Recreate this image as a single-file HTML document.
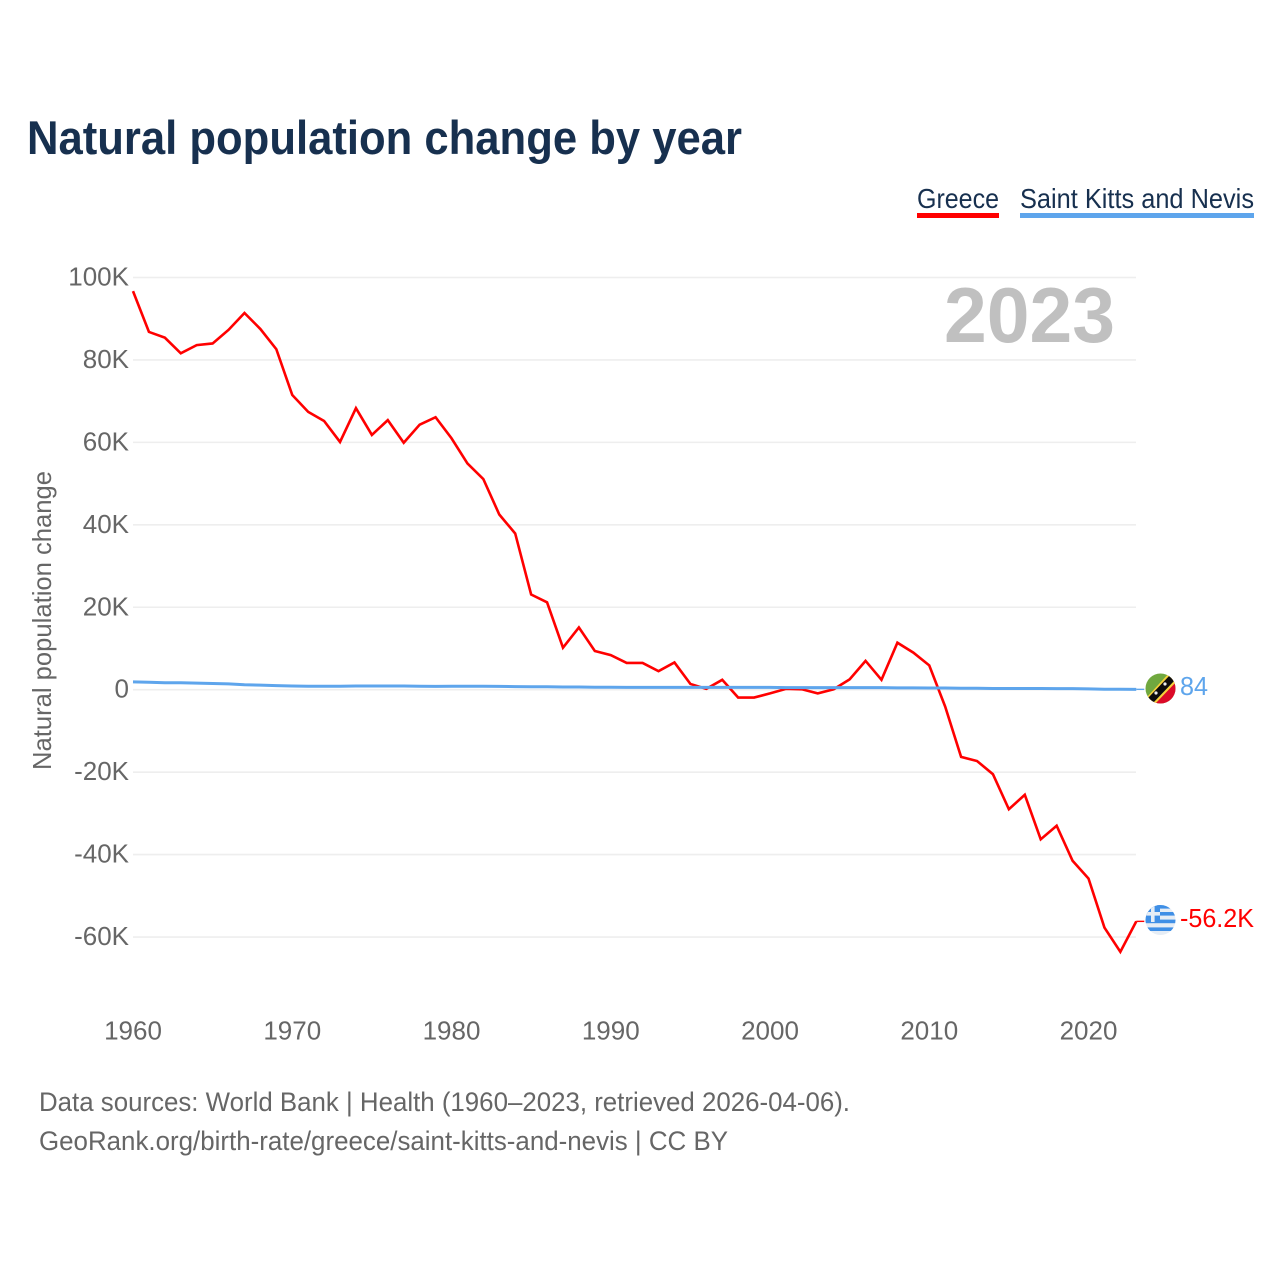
<!DOCTYPE html>
<html lang="en">
<head>
<meta charset="utf-8">
<title>Natural population change by year</title>
<style>
html,body{margin:0;padding:0;background:#fff;}
svg{display:block;font-family:"Liberation Sans",sans-serif;}
</style>
</head>
<body>
<svg id="chart" xmlns="http://www.w3.org/2000/svg" width="1280" height="1280" viewBox="0 0 1280 1280">
  <defs>
    <clipPath id="flag-clip-kn"><circle cx="1160.5" cy="688.5" r="15"/></clipPath>
    <clipPath id="flag-clip-gr"><circle cx="1160.5" cy="920" r="15"/></clipPath>
  </defs>
  <rect width="1280" height="1280" fill="#fff"/>
  <text x="27" y="154" font-size="47" font-weight="700" fill="#17304f" textLength="715" lengthAdjust="spacingAndGlyphs">Natural population change by year</text>

  <g>
    <g>
      <text x="917" y="208" font-size="27.5" fill="#17304f" textLength="82" lengthAdjust="spacingAndGlyphs">Greece</text>
      <rect x="917" y="213" width="82" height="5" fill="#ff0000"/>
    </g>
    <g>
      <text x="1020" y="208" font-size="27.5" fill="#17304f" textLength="234" lengthAdjust="spacingAndGlyphs">Saint Kitts and Nevis</text>
      <rect x="1020" y="213" width="234" height="5" fill="#5ea5ec"/>
    </g>
  </g>

  <g id="grid"></g>
  <g id="y-ticks"></g>
  <g id="x-ticks"></g>

  <text transform="translate(51,620.5) rotate(-90)" text-anchor="middle" font-size="26" fill="#666" textLength="299" lengthAdjust="spacingAndGlyphs">Natural population change</text>
  <text x="944" y="342" font-size="78" font-weight="700" fill="#c0c0c0" textLength="171" lengthAdjust="spacingAndGlyphs">2023</text>

  <g id="series"></g>

  <g clip-path="url(#flag-clip-kn)">
    <rect x="1145" y="673" width="31" height="31" fill="#70a83f"/>
    <polygon points="1176,673 1176,704 1145,704" fill="#dc0a28"/>
    <polygon points="1147,697 1170,672 1178,680 1154,705" fill="#f5d13a"/>
    <polygon points="1148,698 1171,674 1176,679 1153,703" fill="#0c0c0c"/>
    <circle cx="1156" cy="693" r="1.6" fill="#eee"/>
    <circle cx="1165" cy="684" r="1.6" fill="#eee"/>
  </g>
  <g clip-path="url(#flag-clip-gr)">
    <rect x="1145" y="904" width="31" height="32" fill="#e6edf5"/>
    <rect x="1145" y="904" width="31" height="4.6" fill="#3f8fe6"/>
    <rect x="1145" y="912" width="31" height="3.6" fill="#3f8fe6"/>
    <rect x="1145" y="919.6" width="31" height="3.6" fill="#3f8fe6"/>
    <rect x="1145" y="927.4" width="31" height="3.6" fill="#3f8fe6"/>
    <rect x="1145" y="904" width="15" height="18" fill="#3f8fe6"/>
    <rect x="1145" y="912" width="15" height="3.6" fill="#e6edf5"/>
    <rect x="1151" y="904" width="3.6" height="18" fill="#e6edf5"/>
  </g>

  <text x="1180" y="695" font-size="26" fill="#5ea5ec" textLength="28" lengthAdjust="spacingAndGlyphs">84</text>
  <text x="1180" y="927" font-size="26" fill="#ff0000" textLength="74" lengthAdjust="spacingAndGlyphs">-56.2K</text>

  <text x="39" y="1111" font-size="27" fill="#666" textLength="811" lengthAdjust="spacingAndGlyphs">Data sources: World Bank | Health (1960–2023, retrieved 2026-04-06).</text>
  <text x="39" y="1150" font-size="27" fill="#666" textLength="689" lengthAdjust="spacingAndGlyphs">GeoRank.org/birth-rate/greece/saint-kitts-and-nevis | CC BY</text>
</svg>
<script>
const years = [1960,1961,1962,1963,1964,1965,1966,1967,1968,1969,1970,1971,1972,1973,1974,1975,1976,1977,1978,1979,1980,1981,1982,1983,1984,1985,1986,1987,1988,1989,1990,1991,1992,1993,1994,1995,1996,1997,1998,1999,2000,2001,2002,2003,2004,2005,2006,2007,2008,2009,2010,2011,2012,2013,2014,2015,2016,2017,2018,2019,2020,2021,2022,2023];
const greece = [96.7,86.8,85.4,81.6,83.6,84,87.3,91.4,87.5,82.6,71.5,67.4,65.2,60.1,68.3,61.8,65.4,59.9,64.3,66.1,61,54.9,51.1,42.5,37.9,23.1,21.2,10.2,15.1,9.4,8.4,6.5,6.5,4.5,6.6,1.4,0.2,2.4,-1.9,-1.9,-0.9,0.2,0.1,-0.9,0.1,2.5,7,2.4,11.4,9,5.9,-4.1,-16.3,-17.3,-20.5,-29,-25.5,-36.3,-33,-41.5,-45.8,-57.7,-63.6,-56.2];
const saintKitts = [1.9,1.8,1.7,1.7,1.6,1.5,1.4,1.2,1.1,1,0.9,0.85,0.85,0.85,0.9,0.9,0.9,0.9,0.85,0.8,0.85,0.85,0.85,0.8,0.75,0.7,0.7,0.65,0.65,0.6,0.6,0.55,0.55,0.55,0.55,0.55,0.55,0.55,0.55,0.55,0.55,0.5,0.5,0.5,0.5,0.5,0.5,0.5,0.45,0.45,0.4,0.4,0.35,0.35,0.3,0.3,0.3,0.3,0.25,0.25,0.2,0.1,0.1,0.084];
const yTickValues = [100,80,60,40,20,0,-20,-40,-60];
const yTickLabels = ["100K","80K","60K","40K","20K","0","-20K","-40K","-60K"];
const xTickValues = [1960,1970,1980,1990,2000,2010,2020];
const xTickLabels = ["1960","1970","1980","1990","2000","2010","2020"];

const NS = "http://www.w3.org/2000/svg";
function xScale(year) { return 133 + (year - 1960) * 15.925; }
function yScale(v) { return 689.7 - v * 4.122; }
function make(tag, attrs, parent, text) {
  const el = document.createElementNS(NS, tag);
  for (const k in attrs) el.setAttribute(k, attrs[k]);
  if (text !== undefined) el.textContent = text;
  parent.appendChild(el);
  return el;
}
const grid = document.getElementById("grid");
const yTicks = document.getElementById("y-ticks");
const xTicks = document.getElementById("x-ticks");
const series = document.getElementById("series");

yTickValues.forEach(function (v, i) {
  const line = make("line", {x1: 133, x2: 1136, y1: yScale(v), y2: yScale(v), stroke: "#eeeeee", "stroke-width": 1.6}, grid);
  
  
  const label = make("text", {x: 129, y: yScale(v) + 8, "text-anchor": "end", "font-size": 26, fill: "#666"}, yTicks, yTickLabels[i]);
  
  
});
xTickValues.forEach(function (yr, i) {
  const label = make("text", {x: xScale(yr), y: 1039.5, "text-anchor": "middle", "font-size": 26, fill: "#666"}, xTicks, xTickLabels[i]);
  
  
});
function pathFor(values) {
  return values.map(function (v, i) {
    return (i ? "L" : "M") + xScale(years[i]).toFixed(2) + " " + yScale(v).toFixed(2);
  }).join(" ");
}
const greeceLine = make("path", {d: pathFor(greece), fill: "none", stroke: "#ff0000", "stroke-width": 2.6, "stroke-linejoin": "miter"}, series);


const greeceLeader = make("line", {x1: xScale(2023), x2: xScale(2023) + 8, y1: yScale(greece[greece.length - 1]), y2: yScale(greece[greece.length - 1]), stroke: "#ff0000", "stroke-width": 1.4}, series);


const kittsLine = make("path", {d: pathFor(saintKitts), fill: "none", stroke: "#5ea5ec", "stroke-width": 3}, series);


const kittsLeader = make("line", {x1: xScale(2023), x2: xScale(2023) + 8, y1: yScale(saintKitts[saintKitts.length - 1]), y2: yScale(saintKitts[saintKitts.length - 1]), stroke: "#5ea5ec", "stroke-width": 1.4}, series);


</script>
</body>
</html>
